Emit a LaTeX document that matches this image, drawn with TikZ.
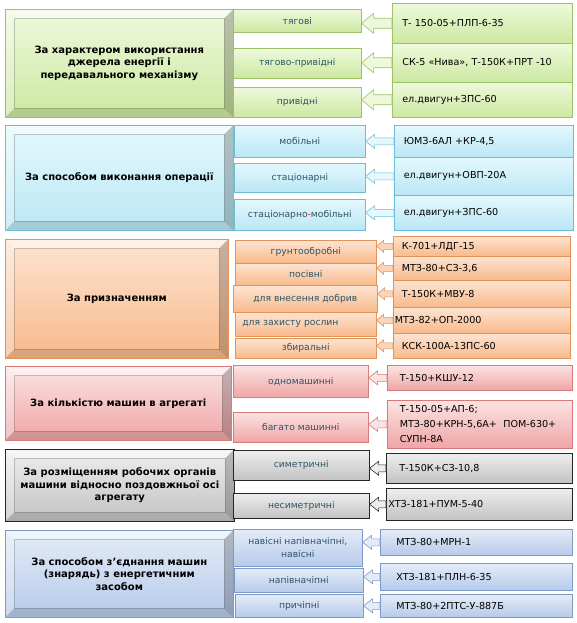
\documentclass[tikz,border=0pt]{standalone}
\usepackage{fontspec}
\setmainfont{DejaVu Sans}
\usetikzlibrary{calc}
\definecolor{GrnLight}{HTML}{EEF9DC}
\definecolor{GrnDark}{HTML}{CCE8A0}
\definecolor{GrnLine}{HTML}{9CC268}
\definecolor{BluLight}{HTML}{E4F8FD}
\definecolor{BluDark}{HTML}{BAE7F5}
\definecolor{BluLine}{HTML}{6CBED5}
\definecolor{OrgLight}{HTML}{FDE4D2}
\definecolor{OrgDark}{HTML}{F8B98A}
\definecolor{OrgLine}{HTML}{E2935A}
\definecolor{PnkLight}{HTML}{FCE3E3}
\definecolor{PnkDark}{HTML}{EFA5A5}
\definecolor{PnkLine}{HTML}{D67A7A}
\definecolor{GryLight}{HTML}{EEEEEE}
\definecolor{GryDark}{HTML}{C2C2C2}
\definecolor{GryLine}{HTML}{262626}
\definecolor{StlLight}{HTML}{E4ECF8}
\definecolor{StlDark}{HTML}{B6CAEA}
\definecolor{StlLine}{HTML}{7C99C8}
\definecolor{MidText}{HTML}{2E5566}
\newcommand{\bevdepth}{9pt}
\newcommand{\shaftw}{3.5pt}
\newcommand{\headw}{7pt}
\newcommand{\headl}{9pt}
% hollow block arrow from the machine box to its class box
\newcommand{\feedarrow}[3][]{%
  \draw[line width=0.6pt,#1] let \p1=(#2.west), \p2=(#3.east) in
    (\x1,\y1+\shaftw) -- (\x2+\headl,\y1+\shaftw) -- (\x2+\headl,\y1+\headw)
    -- (\x2,\y1) -- (\x2+\headl,\y1-\headw) -- (\x2+\headl,\y1-\shaftw)
    -- (\x1,\y1-\shaftw) -- cycle;}
\tikzset{
    spot/.style n args={4}{
        at={(#1,#2)},
        minimum width={(#3)-(#1)},
        minimum height={(#4)-(#2)}
    },
    mainbox/.style={
        rectangle,
        anchor=north west,
        inner sep=0pt,
        align=center,
        line width=0.6pt,
        font=\bfseries\fontsize{10}{12.5}\selectfont,
        path picture={
            \coordinate (pnw) at (path picture bounding box.north west);
            \coordinate (pne) at (path picture bounding box.north east);
            \coordinate (psw) at (path picture bounding box.south west);
            \coordinate (pse) at (path picture bounding box.south east);
            \fill[white, opacity=.5] (pnw) -- (pne) -- ([shift={(-\bevdepth,-\bevdepth)}]pne) -- ([shift={(\bevdepth,-\bevdepth)}]pnw) -- cycle;
            \fill[white, opacity=.3] (pnw) -- (psw) -- ([shift={(\bevdepth,\bevdepth)}]psw) -- ([shift={(\bevdepth,-\bevdepth)}]pnw) -- cycle;
            \fill[black, opacity=.22] (pne) -- (pse) -- ([shift={(-\bevdepth,\bevdepth)}]pse) -- ([shift={(-\bevdepth,-\bevdepth)}]pne) -- cycle;
            \fill[black, opacity=.12] (psw) -- (pse) -- ([shift={(-\bevdepth,\bevdepth)}]pse) -- ([shift={(\bevdepth,\bevdepth)}]psw) -- cycle;
            \draw[black, opacity=.2] ([shift={(\bevdepth,-\bevdepth)}]pnw) rectangle ([shift={(-\bevdepth,\bevdepth)}]pse);
        }
    },
    midbox/.style={
        rectangle,
        anchor=north west,
        inner sep=0pt,
        align=center,
        line width=0.6pt,
        text=MidText,
        font=\fontsize{9.2}{13}\selectfont
    },
    machbox/.style={
        rectangle,
        anchor=north west,
        inner sep=0pt,
        align=left,
        text width=160pt,
        line width=0.6pt,
        text=black,
        font=\fontsize{9.6}{15}\selectfont
    },
    grn/.style={top color=GrnLight, bottom color=GrnDark, draw=GrnLine},
    blu/.style={top color=BluLight, bottom color=BluDark, draw=BluLine},
    org/.style={top color=OrgLight, bottom color=OrgDark, draw=OrgLine},
    pnk/.style={top color=PnkLight, bottom color=PnkDark, draw=PnkLine},
    gry/.style={top color=GryLight, bottom color=GryDark, draw=GryLine},
    stl/.style={top color=StlLight, bottom color=StlDark, draw=StlLine},
    grnarrow/.style={fill=GrnLight, draw=GrnLine},
    bluarrow/.style={fill=BluLight, draw=BluLine},
    orgarrow/.style={fill=OrgDark!60, draw=OrgLine},
    pnkarrow/.style={fill=PnkLight, draw=PnkLine},
    gryarrow/.style={fill=GryLight, draw=GryLine},
    stlarrow/.style={fill=StlLight, draw=StlLine}
}
\begin{document}
\begin{tikzpicture}[x=1pt, y=-1pt]
    \useasboundingbox (0,0) rectangle (577,623);

    % Energy source and transmission
    \node[mainbox, grn, spot={5}{9}{233}{117}] (energyMain) {За характером використання\\джерела енергії і\\передавального механізму};
    \node[midbox, grn, spot={233}{9}{361}{32}] (energyA) {тягові};
    \node[midbox, grn, spot={233}{48}{361}{78}] (energyB) {тягово-привідні};
    \node[midbox, grn, spot={233}{87}{361}{117}] (energyC) {привідні};
    \node[machbox, grn, spot={392}{3}{572}{43}] (energyAx) {Т- 150-05+ПЛП-6-35};
    \node[machbox, grn, spot={392}{43}{572}{82}] (energyBx) {СК-5 «Нива», Т-150К+ПРТ -10};
    \node[machbox, grn, spot={392}{82}{572}{117}] (energyCx) {ел.двигун+ЗПС-60};
    \renewcommand{\shaftw}{5pt}\renewcommand{\headw}{10pt}\renewcommand{\headl}{12pt}
    \feedarrow[grnarrow]{energyAx}{energyA}
    \feedarrow[grnarrow]{energyBx}{energyB}
    \feedarrow[grnarrow]{energyCx}{energyC}
    \renewcommand{\shaftw}{3.5pt}\renewcommand{\headw}{7pt}\renewcommand{\headl}{9pt}

    % Mode of operation
    \node[mainbox, blu, spot={5}{125}{233}{230}] (modeMain) {За способом виконання операції};
    \node[midbox, blu, spot={234}{125}{365}{157}] (modeA) {мобільні};
    \node[midbox, blu, spot={234}{163}{365}{192}] (modeB) {стаціонарні};
    \node[midbox, blu, spot={234}{199}{365}{230}] (modeC) {стаціонарно{\color{red}-}мобільні};
    \node[machbox, blu, spot={394}{125}{573}{157}] (modeAx) {ЮМЗ-6АЛ +КР-4,5};
    \node[machbox, blu, spot={394}{157}{573}{195}] (modeBx) {ел.двигун+ОВП-20А};
    \node[machbox, blu, spot={394}{195}{573}{230}] (modeCx) {ел.двигун+ЗПС-60};
    \feedarrow[bluarrow]{modeAx}{modeA}
    \feedarrow[bluarrow]{modeBx}{modeB}
    \feedarrow[bluarrow]{modeCx}{modeC}

    % Purpose
    \node[mainbox, org, spot={5}{239}{228}{358}] (useMain) {За призначенням};
    \node[midbox, org, spot={235}{240}{376}{263}] (useA) {грунтообробні};
    \node[midbox, org, spot={235}{263}{376}{285}] (useB) {посівні};
    \node[midbox, org, spot={233}{285}{377}{312}] (useC) {для внесення добрив};
    \node[midbox, org, spot={235}{312}{376}{336}, text width=127pt, align=left] (useD) {для захисту рослин};
    \node[midbox, org, spot={235}{338}{376}{358}] (useE) {збиральні};
    \node[machbox, org, spot={393}{236}{570}{256}] (useAx) {К-701+ЛДГ-15};
    \node[machbox, org, spot={393}{256}{570}{280}] (useBx) {МТЗ-80+СЗ-3,6};
    \node[machbox, org, spot={393}{280}{570}{307}] (useCx) {Т-150К+МВУ-8};
    \node[machbox, org, spot={393}{307}{570}{333}, text width=174pt] (useDx) {МТЗ-82+ОП-2000};
    \node[machbox, org, spot={393}{333}{570}{358}] (useEx) {КСК-100А-13ПС-60};
    \renewcommand{\shaftw}{3pt}\renewcommand{\headw}{6pt}\renewcommand{\headl}{7pt}
    \feedarrow[orgarrow]{useAx}{useA}
    \feedarrow[orgarrow]{useBx}{useB}
    \feedarrow[orgarrow]{useCx}{useC}
    \feedarrow[orgarrow]{useDx}{useD}
    \feedarrow[orgarrow]{useEx}{useE}
    \renewcommand{\shaftw}{3.5pt}\renewcommand{\headw}{7pt}\renewcommand{\headl}{9pt}

    % Number of machines
    \node[mainbox, pnk, spot={5}{366}{231}{440}] (countMain) {За кількістю машин в агрегаті};
    \node[midbox, pnk, spot={233}{365}{368}{397}] (countA) {одномашинні};
    \node[midbox, pnk, spot={233}{412}{368}{442}] (countB) {багато машинні};
    \node[machbox, pnk, spot={387}{365}{572}{390}] (countAx) {Т-150+КШУ-12};
    \node[machbox, pnk, spot={387}{400}{572}{448}] (countBx) {Т-150-05+АП-6;\\МТЗ-80+КРН-5,6А+ \ ПОМ-630+\\СУПН-8А};
    \feedarrow[pnkarrow]{countAx}{countA}
    \feedarrow[pnkarrow]{countBx}{countB}

    % Layout of working parts
    \node[mainbox, gry, spot={5}{449}{234}{521}] (axisMain) {За розміщенням робочих органів\\машини відносно поздовжньої осі\\агрегату};
    \node[midbox, gry, spot={233}{450}{369}{480}] (axisA) {симетричні};
    \node[midbox, gry, spot={233}{493}{369}{518}] (axisB) {несиметричні};
    \node[machbox, gry, spot={386}{453}{572}{483}] (axisAx) {Т-150К+СЗ-10,8};
    \node[machbox, gry, spot={386}{488}{572}{520}, text width=182pt] (axisBx) {ХТЗ-181+ПУМ-5-40};
    \feedarrow[gryarrow]{axisAx}{axisA}
    \feedarrow[gryarrow]{axisBx}{axisB}

    % Hitching to the power unit
    \node[mainbox, stl, spot={5}{530}{233}{617}] (hitchMain) {За способом з’єднання машин\\(знарядь) з енергетичним\\засобом};
    \node[midbox, stl, spot={233}{529}{362}{566}] (hitchA) {навісні напівначіпні,\\навісні};
    \node[midbox, stl, spot={234}{568}{363}{592}] (hitchB) {напівначіпні};
    \node[midbox, stl, spot={235}{594}{363}{617}] (hitchC) {причіпні};
    \node[machbox, stl, spot={380}{529}{572}{555}] (hitchAx) {МТЗ-80+МРН-1};
    \node[machbox, stl, spot={380}{563}{572}{590}] (hitchBx) {ХТЗ-181+ПЛН-6-35};
    \node[machbox, stl, spot={380}{594}{572}{617}] (hitchCx) {МТЗ-80+2ПТС-У-887Б};
    \feedarrow[stlarrow]{hitchAx}{hitchA}
    \feedarrow[stlarrow]{hitchBx}{hitchB}
    \feedarrow[stlarrow]{hitchCx}{hitchC}
\end{tikzpicture}
\end{document}
